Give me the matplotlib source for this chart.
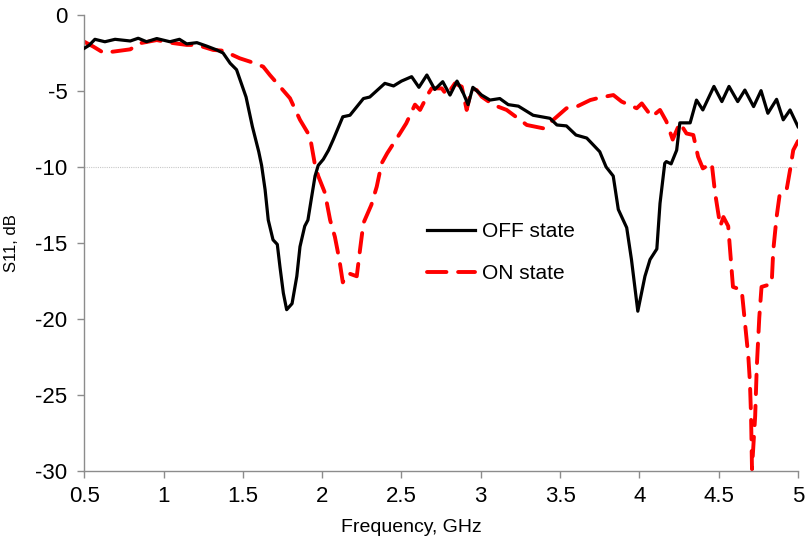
import matplotlib
matplotlib.use("Agg")
import matplotlib.pyplot as plt

off_freq = [0.50, 0.53, 0.567, 0.63, 0.694, 0.79, 0.84, 0.893, 0.957, 1.04, 1.10, 1.146, 1.21, 1.27,
            1.335, 1.375, 1.42, 1.46, 1.52, 1.56, 1.60, 1.618, 1.64, 1.66, 1.69, 1.717, 1.734, 1.755,
            1.776, 1.81, 1.84, 1.86, 1.89, 1.91, 1.93, 1.955, 1.975, 2.007, 2.04, 2.07, 2.13, 2.175,
            2.26, 2.30, 2.395, 2.45, 2.50, 2.564, 2.61, 2.66, 2.71, 2.76, 2.806, 2.85, 2.89, 2.92,
            2.95, 3.005, 3.058, 3.12, 3.173, 3.237, 3.33, 3.436, 3.48, 3.54, 3.60, 3.668, 3.71, 3.75,
            3.79, 3.835, 3.867, 3.92, 3.95, 3.99, 4.035, 4.067, 4.11, 4.13, 4.16, 4.17, 4.20, 4.235,
            4.255, 4.32, 4.36, 4.40, 4.47, 4.52, 4.565, 4.62, 4.665, 4.72, 4.767, 4.81, 4.865, 4.907,
            4.95, 5.0]
off_s11 = [-2.19, -2.0, -1.6, -1.76, -1.6, -1.71, -1.53, -1.76, -1.55, -1.76, -1.6, -1.9, -1.82, -2.04,
           -2.3, -2.5, -3.18, -3.6, -5.4, -7.35, -9.0, -9.9, -11.5, -13.5, -14.8, -15.1, -16.6, -18.3,
           -19.4, -19.0, -17.2, -15.25, -13.9, -13.5, -12.2, -10.6, -9.9, -9.5, -8.9, -8.2, -6.7, -6.6,
           -5.5, -5.4, -4.5, -4.67, -4.35, -4.06, -4.76, -3.95, -4.9, -4.39, -5.27, -4.35, -5.15, -5.9,
           -4.76, -5.27, -5.6, -5.5, -5.9, -6.0, -6.6, -6.8, -7.24, -7.3, -7.9, -8.1, -8.56, -9.0,
           -10.0, -10.6, -12.8, -14.0, -16.1, -19.5, -17.2, -16.1, -15.4, -12.4, -9.76, -9.65, -9.8, -8.9,
           -7.1, -7.1, -5.6, -6.25, -4.7, -5.7, -4.7, -5.7, -4.94, -6.03, -4.98, -6.47, -5.55, -6.9,
           -6.25, -7.35]

on_freq = [0.50, 0.557, 0.62, 0.683, 0.79, 0.85, 0.957, 1.04, 1.146, 1.21, 1.313, 1.376, 1.48, 1.545,
           1.628, 1.67, 1.734, 1.797, 1.86, 1.923, 1.955, 1.975, 2.017, 2.05, 2.08, 2.108, 2.13, 2.165,
           2.218, 2.238, 2.26, 2.31, 2.344, 2.375, 2.41, 2.49, 2.53, 2.585, 2.617, 2.67, 2.69, 2.754,
           2.785, 2.837, 2.88, 2.911, 2.943, 2.974, 3.006, 3.08, 3.163, 3.247, 3.29, 3.394, 3.457, 3.54,
           3.605, 3.69, 3.75, 3.836, 3.888, 3.983, 4.015, 4.078, 4.13, 4.17, 4.21, 4.255, 4.297, 4.34,
           4.37, 4.40, 4.456, 4.477, 4.51, 4.53, 4.56, 4.575, 4.59, 4.645, 4.666, 4.687, 4.697, 4.704,
           4.71, 4.715, 4.73, 4.74, 4.756, 4.77, 4.834, 4.844, 4.865, 4.886, 4.93, 4.95, 4.97, 5.0]
on_s11 = [-1.76, -2.08, -2.48, -2.41, -2.26, -1.86, -1.65, -1.82, -1.97, -1.97, -2.3, -2.35, -2.85, -3.07,
          -3.4, -3.95, -4.72, -5.48, -6.9, -8.0, -9.9, -10.6, -11.7, -13.5, -14.6, -16.1, -17.6, -17.0,
          -17.2, -15.5, -13.7, -12.5, -11.3, -9.76, -9.1, -7.8, -7.13, -5.9, -6.25, -5.16, -4.83, -4.83,
          -5.27, -4.5, -4.72, -6.25, -4.83, -4.94, -5.38, -5.92, -6.25, -6.9, -7.24, -7.46, -6.9, -6.14,
          -6.03, -5.6, -5.44, -5.27, -5.7, -6.14, -5.82, -6.7, -6.25, -7.0, -8.2, -7.1, -7.8, -7.9,
          -9.33, -10.1, -9.76, -11.7, -13.9, -13.3, -13.9, -15.9, -17.9, -18.1, -20.3, -22.5, -24.2, -26.4,
          -29.9, -29.0, -26.4, -23.2, -19.9, -17.9, -17.7, -15.5, -13.3, -11.7, -11.4, -10.2, -8.9, -8.3]

x_ticks = [0.5, 1, 1.5, 2, 2.5, 3, 3.5, 4, 4.5, 5]
x_labels = ["0.5", "1", "1.5", "2", "2.5", "3", "3.5", "4", "4.5", "5"]
y_ticks = [0, -5, -10, -15, -20, -25, -30]

plt.rcParams["font.family"] = ["Liberation Sans", "DejaVu Sans"]
plt.rcParams["axes.unicode_minus"] = False

fig = plt.figure(figsize=(8.05, 5.38), dpi=100)
ax = fig.add_axes([0.1047, 0.1251, 0.8866, 0.847])

ax.axhline(-10, color="#c8c8c8", linewidth=0.8, linestyle=(0, (1, 1)), zorder=1)

ax.plot(off_freq, off_s11, color="black", linewidth=2.3, solid_joinstyle="round",
        label="OFF state", zorder=3)
ax.plot(on_freq, on_s11, color="#ff0000", linewidth=2.8, dashes=(5, 3),
        dash_capstyle="round", label="ON state", zorder=2)

ax.set_xlim(0.5, 5)
ax.set_ylim(-30, 0)
ax.set_xticks(x_ticks)
ax.set_xticklabels(x_labels)
ax.set_yticks(y_ticks)

for side in ["top", "right"]:
    ax.spines[side].set_visible(False)
for side in ["left", "bottom"]:
    ax.spines[side].set_color("#8c8c8c")
    ax.spines[side].set_linewidth(1.0)
ax.tick_params(axis="both", colors="#8c8c8c", length=5, width=1.0, labelsize=16,
               labelcolor="black")
ax.tick_params(axis="x", pad=6)
ax.tick_params(axis="y", pad=7)

ax.set_xlabel("Frequency, GHz", fontsize=14)
ax.set_ylabel("S11, dB", fontsize=12)
ax.xaxis.set_label_coords(0.458, -0.105)
ax.yaxis.set_label_coords(-0.092, 0.5)

ax.legend(loc="upper left", bbox_to_anchor=(0.48, 0.545), frameon=False, fontsize=15,
          handlelength=2.3, handletextpad=0.35, labelspacing=1.1, borderpad=0,
          borderaxespad=0)

fig.savefig("out.png", dpi=100)
